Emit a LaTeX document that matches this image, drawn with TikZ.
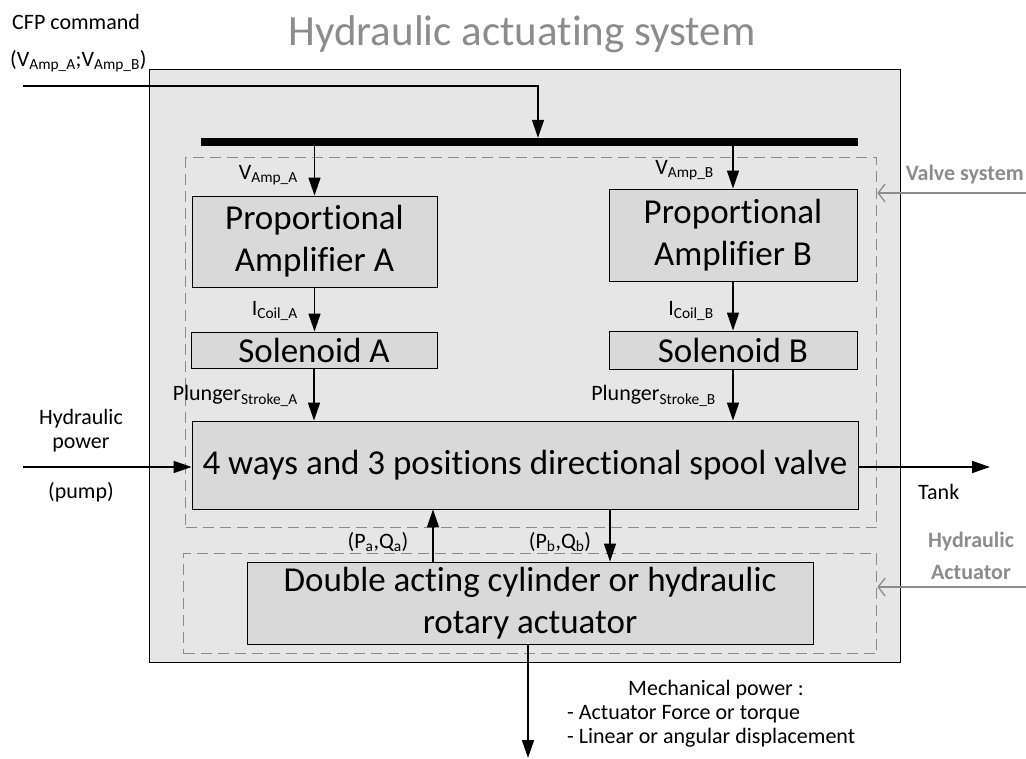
\documentclass[tikz,border=0pt]{standalone}
\usepackage{fontspec}
\setmainfont{Carlito}[Ligatures=NoCommon]
\usetikzlibrary{arrows.meta}
\definecolor{boxfill}{HTML}{D9D9D9}
\definecolor{bgfill}{HTML}{E6E6E6}
\definecolor{lblgray}{HTML}{8C8C8C}
\definecolor{dashgray}{HTML}{8A8A8A}
\begin{document}
\begin{tikzpicture}[x=1pt,y=-1pt,
  blk/.style={draw=black, line width=0.9pt, fill=boxfill, inner sep=0pt, align=center,
    font=\fontsize{35}{42}\selectfont},
  sig/.style={line width=1.6pt, -{Triangle[length=18pt,width=12pt]}},
  dbox/.style={draw=dashgray, dash pattern=on 11pt off 6pt, line width=1.3pt, inner sep=0pt},
  note/.style={font=\fontsize{22}{26}\selectfont, inner sep=0pt},
  glabel/.style={font=\bfseries\fontsize{22}{26}\selectfont, text=lblgray, inner sep=0pt},
  garrow/.style={draw=lblgray, line width=1.3pt, -{Straight Barb[length=7pt,width=18pt]}},
  titlestyle/.style={font=\fontsize{43}{50}\selectfont, text=lblgray, inner sep=0pt}
]
\path[use as bounding box] (0,0) rectangle (1026,759);

\node[titlestyle] (title) at (522,34) {Hydraulic actuating system};

% outer box
\node[draw=black, line width=1.3pt, fill=bgfill, minimum width=751pt, minimum height=593pt,
  anchor=north west, inner sep=0pt] (outer) at (149,69) {};

% dashed subsystem boxes
\node[dbox, anchor=north west, minimum width=691pt, minimum height=370pt] (valvesys) at (185,157) {};
\node[dbox, anchor=north west, minimum width=693pt, minimum height=100pt] (actsys) at (183,553) {};

% bus
\node[fill=black, minimum width=657pt, minimum height=8pt, inner sep=0pt] (bus) at (529.5,142) {};

% blocks
\node[blk, minimum width=245pt, minimum height=91pt] (ampA) at (314.5,241.5) {Proportional\\Amplifier A};
\node[blk, minimum width=246pt, minimum height=36pt] (solA) at (314,350) {Solenoid A};
\node[blk, minimum width=248pt, minimum height=92pt] (ampB) at (733,235) {Proportional\\Amplifier B};
\node[blk, minimum width=248pt, minimum height=38pt] (solB) at (733,350) {Solenoid B};
\node[blk, minimum width=666pt, minimum height=88pt] (valve) at (525,465) {4 ways and 3 positions directional spool valve};
\node[blk, minimum width=566pt, minimum height=82pt] (act) at (530,603) {Double acting cylinder or hydraulic\\rotary actuator};

% connectors
\coordinate (cfpin) at (23,86);
\draw[sig] (cfpin) -| ([xshift=8.5pt]bus.north);
\draw[sig] (bus.south -| ampA.north) -- (ampA.north);
\draw[sig] (bus.south -| ampB.north) -- (ampB.north);
\draw[sig] (ampA.south) -- (ampA.south |- solA.north);
\draw[sig] (ampB.south) -- (solB.north);
\draw[sig] (solA.south) -- (solA.south |- valve.north);
\draw[sig] (solB.south) -- (solB.south |- valve.north);
\coordinate (pump) at (23,467);
\draw[sig] (pump) -- (pump -| valve.west);
\coordinate (tank) at (990,467);
\draw[sig] (valve.east |- tank) -- (tank);
\draw[sig] ([xshift=-97pt]act.north) -- ([xshift=-97pt]act.north |- valve.south);
\draw[sig] ([xshift=80pt]act.north |- valve.south) -- ([xshift=80pt]act.north);
\coordinate (mech) at (528,758);
\draw[sig] (act.south -| mech) -- (mech);

% gray pointers
\coordinate (vsl) at (1026,193);
\draw[garrow] (vsl) -- (vsl -| valvesys.east);
\coordinate (hal) at (1026,587);
\draw[garrow] (hal) -- (hal -| actsys.east);

% labels
\node[note, anchor=west] (cfp) at (12,22) {CFP command};
\node[note, anchor=west] (cfpv) at (10,61) {(V\textsubscript{Amp\_A};V\textsubscript{Amp\_B})};
\node[note, anchor=east] (lva) at (298,175) {V\textsubscript{Amp\_A}};
\node[note, anchor=east] (lvb) at (714,170) {V\textsubscript{Amp\_B}};
\node[note, anchor=east] (lia) at (298,311) {I\textsubscript{Coil\_A}};
\node[note, anchor=east] (lib) at (714,311) {I\textsubscript{Coil\_B}};
\node[note, anchor=east] (lpa) at (298,396) {Plunger\textsubscript{Stroke\_A}};
\node[note, anchor=east] (lpb) at (716,396) {Plunger\textsubscript{Stroke\_B}};
\node[note] (hp1) at (81,419) {Hydraulic};
\node[note] (hp2) at (81,445) {power};
\node[note] (hp3) at (81,492) {(pump)};
\node[note, anchor=west] (ltank) at (918,492) {Tank};
\node[note] (lpqa) at (378,542) {(P\textsubscript{a},Q\textsubscript{a})};
\node[note] (lpqb) at (560,542) {(P\textsubscript{b},Q\textsubscript{b})};
\node[note] (mp1) at (716,690) {Mechanical power :};
\node[note, anchor=west] (mp2) at (567,714) {- Actuator Force or torque};
\node[note, anchor=west] (mp3) at (567,738) {- Linear or angular displacement};
\node[glabel, anchor=east] (lvs) at (1024,175) {Valve system};
\node[glabel] (lha1) at (971,542) {Hydraulic};
\node[glabel] (lha2) at (971,572) {Actuator};
\end{tikzpicture}
\end{document}
